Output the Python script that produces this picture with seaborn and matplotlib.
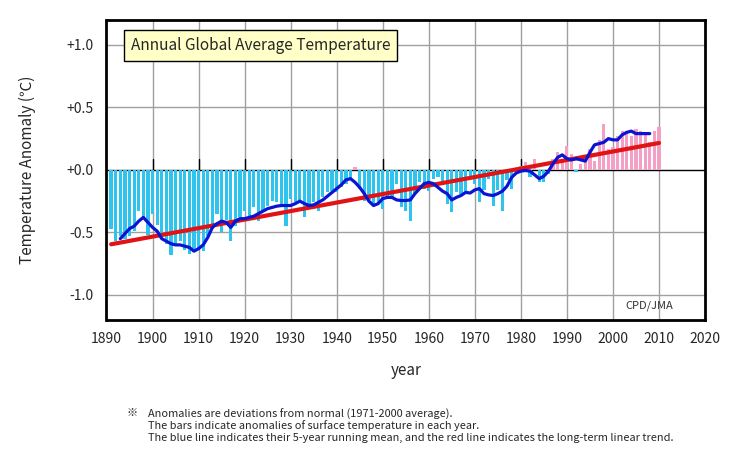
import numpy as np
import pandas as pd
import matplotlib
matplotlib.use("Agg")
import matplotlib.pyplot as plt
import seaborn as sns

# ---- data ----
years = list(range(1891, 2011))
anomaly = [
    -0.47, -0.57, -0.53, -0.55, -0.53, -0.49, -0.33, -0.38, -0.52, -0.35,   # 1891-1900
    -0.44, -0.55, -0.59, -0.68, -0.60, -0.57, -0.64, -0.67, -0.66, -0.63,   # 1901-1910
    -0.65, -0.53, -0.47, -0.35, -0.50, -0.40, -0.57, -0.45, -0.38, -0.33,   # 1911-1920
    -0.37, -0.30, -0.41, -0.33, -0.29, -0.25, -0.26, -0.27, -0.45, -0.23,   # 1921-1930
    -0.26, -0.24, -0.38, -0.27, -0.26, -0.33, -0.22, -0.18, -0.17, -0.18,   # 1931-1940
    -0.14, -0.11, -0.08, 0.02, -0.15, -0.25, -0.24, -0.28, -0.27, -0.31,    # 1941-1950
    -0.21, -0.23, -0.11, -0.30, -0.33, -0.41, -0.19, -0.10, -0.15, -0.17,   # 1951-1960
    -0.07, -0.06, -0.11, -0.27, -0.34, -0.18, -0.19, -0.17, -0.06, -0.11,   # 1961-1970
    -0.26, -0.16, -0.07, -0.29, -0.16, -0.33, -0.08, -0.15, -0.03, 0.03,    # 1971-1980
    0.06, -0.06, 0.09, -0.10, -0.10, -0.03, 0.09, 0.14, 0.07, 0.19,         # 1981-1990
    0.13, -0.02, 0.05, 0.09, 0.17, 0.07, 0.24, 0.37, 0.17, 0.18,            # 1991-2000
    0.27, 0.31, 0.31, 0.27, 0.33, 0.31, 0.29, 0.22, 0.31, 0.34,             # 2001-2010
]

run_years = list(range(1893, 2009))
run_mean = [
    -0.55, -0.51, -0.47, -0.45, -0.41, -0.38, -0.42,                        # 1893-1899
    -0.46, -0.49, -0.55, -0.57, -0.59, -0.60, -0.60, -0.61, -0.62, -0.65,   # 1900-1909
    -0.63, -0.60, -0.54, -0.46, -0.43, -0.41, -0.42, -0.46, -0.41, -0.39,   # 1910-1919
    -0.39, -0.38, -0.37, -0.35, -0.33, -0.31, -0.30, -0.29, -0.285, -0.285, # 1920-1929
    -0.285, -0.27, -0.25, -0.27, -0.285, -0.28, -0.26, -0.24, -0.21, -0.18, # 1930-1939
    -0.15, -0.12, -0.08, -0.07, -0.10, -0.14, -0.19, -0.25, -0.285, -0.27,  # 1940-1949
    -0.23, -0.22, -0.22, -0.24, -0.245, -0.245, -0.24, -0.19, -0.15, -0.11, # 1950-1959
    -0.10, -0.11, -0.14, -0.17, -0.19, -0.24, -0.22, -0.205, -0.18, -0.185, # 1960-1969
    -0.16, -0.15, -0.19, -0.20, -0.205, -0.19, -0.17, -0.13, -0.06, -0.025, # 1970-1979
    -0.01, -0.005, -0.01, -0.04, -0.07, -0.05, -0.01, 0.05, 0.10, 0.12,     # 1980-1989
    0.09, 0.08, 0.09, 0.08, 0.07, 0.14, 0.20, 0.21, 0.22, 0.25,             # 1990-1999
    0.24, 0.24, 0.28, 0.30, 0.31, 0.29, 0.29, 0.29, 0.29,                   # 2000-2008
]

trend_years = [1891, 2010]
trend_vals = [-0.595, 0.215]

xticks = list(range(1890, 2030, 10))
yticks = [-1.0, -0.5, 0.0, 0.5, 1.0]
ytick_labels = ["-1.0", "-0.5", "+0.0", "+0.5", "+1.0"]

title_text = "Annual Global Average Temperature"
note_lines = [
    "Anomalies are deviations from normal (1971-2000 average).",
    "The bars indicate anomalies of surface temperature in each year.",
    "The blue line indicates their 5-year running mean, and the red line indicates the long-term linear trend.",
]

# ---- style ----
sns.set_style("white")
plt.rcParams["font.family"] = ["Noto Sans CJK JP", "DejaVu Sans"]

CYAN = "#2ec4ee"
PINK = "#f4a0c6"
BLUE = "#0a14d2"
RED = "#e01414"
GRID = "#a0a0a0"

fig = plt.figure(figsize=(7.5, 4.5), dpi=100)
ax = fig.add_axes([0.142, 0.289, 0.798, 0.667])

df = pd.DataFrame({"year": years, "anom": anomaly})
df["sign"] = np.where(df["anom"] >= 0, "pos", "neg")

ax.set_xlim(1890, 2020)
ax.set_ylim(-1.2, 1.2)

# grid
for x in xticks[1:-1]:
    ax.axvline(x, color=GRID, lw=1.0, zorder=0)
for y in yticks:
    if y != 0:
        ax.axhline(y, color=GRID, lw=1.0, zorder=0)
ax.axhline(0, color="black", lw=1.0, zorder=0.5)

sns.barplot(data=df, x="year", y="anom", hue="sign",
            palette={"pos": PINK, "neg": CYAN}, native_scale=True,
            width=0.7, dodge=False, legend=False, ax=ax,
            saturation=1, linewidth=0, zorder=2)

# black ticks on the zero line
for x in xticks[1:-1]:
    ax.plot([x, x], [0, 0.085], color="black", lw=1.0, zorder=1)

sns.lineplot(x=trend_years, y=trend_vals, color=RED, lw=3.0, ax=ax, zorder=3)
sns.lineplot(x=run_years, y=run_mean, color=BLUE, lw=2.3, ax=ax, zorder=4)

ax.set_xticks(xticks)
ax.set_xticklabels([str(x) for x in xticks], fontsize=10)
ax.set_yticks(yticks)
ax.set_yticklabels(ytick_labels, fontsize=10)
ax.tick_params(axis="y", direction="out", length=6, width=1, color="black", pad=3)
ax.tick_params(axis="x", length=0, pad=9)
ax.set_xlim(1890, 2020)
ax.set_ylim(-1.2, 1.2)

for s in ax.spines.values():
    s.set_color("black")
    s.set_linewidth(2)

ax.set_xlabel("year", fontsize=11, labelpad=11)
ax.set_ylabel("Temperature Anomaly (℃)", fontsize=11, labelpad=22)

ax.text(1895.3, 0.995, title_text, fontsize=11.1, va="center", ha="left",
        bbox=dict(boxstyle="square,pad=0.45", fc="#ffffc8", ec="black", lw=1),
        zorder=6)
ax.text(2013, -1.09, "CPD/JMA", fontsize=8, color="#333333",
        ha="right", va="center", zorder=6)

fig.text(0.169, 0.083, "※", fontsize=8, va="center", ha="left")
for i, line in enumerate(note_lines):
    fig.text(0.197, 0.080 - i * 0.0267, line, fontsize=7.9, va="center", ha="left")

fig.savefig("out.png", dpi=100)
